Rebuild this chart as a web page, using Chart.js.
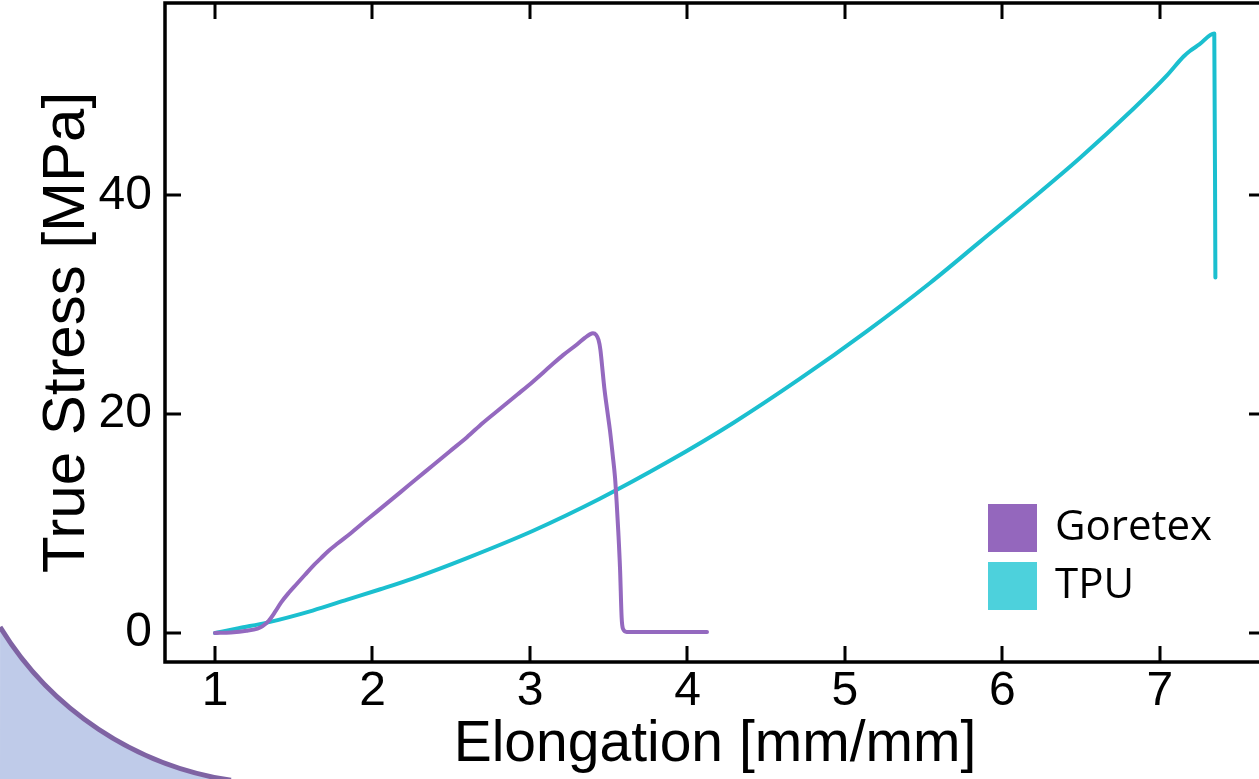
<!DOCTYPE html>
<html><head><meta charset="utf-8">
<script src="https://cdn.jsdelivr.net/npm/chart.js@4"></script>
<style>
html,body{margin:0;padding:0;background:#fff;overflow:hidden;width:1259px;height:779px;}
#wrap{position:absolute;left:0;top:0;width:1280px;height:779px;}
</style></head><body>
<div id="wrap"><canvas id="c" width="1280" height="779"></canvas></div>
<script>
// ---- data ----
const seriesNames = ['Goretex', 'TPU'];
const goretexElongation = [1.0, 1.10, 1.20, 1.27, 1.30, 1.34, 1.38, 1.42, 1.47, 1.52, 1.57, 1.62, 1.67, 1.72, 1.78, 1.86, 1.96, 2.07, 2.18, 2.28, 2.39, 2.49, 2.60, 2.70, 2.81, 2.92, 3.02, 3.13, 3.21, 3.30, 3.35, 3.38, 3.40, 3.42, 3.435, 3.447, 3.458, 3.472, 3.49, 3.508, 3.525, 3.540, 3.550, 3.561, 3.572, 3.582, 3.590, 3.614, 3.70, 3.90, 4.124];
const goretexStress     = [0.0, 0.05, 0.2, 0.4, 0.6, 1.1, 1.9, 2.8, 3.7, 4.5, 5.3, 6.1, 6.8, 7.5, 8.2, 9.1, 10.3, 11.6, 12.9, 14.1, 15.4, 16.6, 17.9, 19.2, 20.5, 21.8, 23.0, 24.4, 25.4, 26.4, 27.0, 27.3, 27.4, 27.25, 26.8, 25.9, 24.4, 22.4, 20.4, 18.5, 16.3, 14.2, 12.0, 9.2, 5.8, 1.4, 0.4, 0.1, 0.1, 0.1, 0.1];
const tpuElongation     = [1.0, 1.15, 1.33, 1.62, 1.84, 2.05, 2.26, 2.60, 3.02, 3.44, 3.87, 4.29, 4.71, 5.14, 5.54, 5.86, 6.18, 6.49, 6.83, 7.04, 7.15, 7.19, 7.25, 7.345, 7.352];
const tpuStress         = [0.0, 0.45, 0.95, 2.05, 3.05, 4.0, 5.0, 6.85, 9.35, 12.25, 15.6, 19.2, 23.2, 27.6, 32.0, 35.8, 39.6, 43.4, 47.9, 50.9, 52.7, 53.2, 53.8, 54.8, 32.5];
const xTickValues = [1, 2, 3, 4, 5, 6, 7];
const yTickValues = [0, 20, 40];

const FONT = '"Liberation Sans", Arial, sans-serif';
const toPts = (xs, ys) => xs.map((v, i) => ({x: v, y: ys[i]}));

const bgDecor = {
  id: 'bgDecor',
  beforeDraw(chart) {
    const ctx = chart.ctx;
    const cx = 280, cy = 456, r = 328;
    const a1 = Math.atan2(627 - cy, 0 - cx);
    const a2 = Math.atan2(800 - cy, 228 - cx);
    ctx.save();
    ctx.beginPath();
    ctx.arc(cx, cy, r, a1, a2, true);
    ctx.lineTo(0, 800);
    ctx.closePath();
    ctx.fillStyle = '#bfcbe9';
    ctx.fill();
    ctx.beginPath();
    ctx.arc(cx, cy, r, a1, a2, true);
    ctx.strokeStyle = '#7f63a3';
    ctx.lineWidth = 5;
    ctx.stroke();
    ctx.restore();
  }
};

const frameTicks = {
  id: 'frameTicks',
  beforeDatasetsDraw(chart) {
    const {ctx, chartArea: {left, right, top, bottom}, scales: {x, y}} = chart;
    const L = 16;
    ctx.save();
    ctx.strokeStyle = '#000';
    ctx.lineWidth = 3.5;
    ctx.lineCap = 'butt';
    ctx.strokeRect(left, top, right - left, bottom - top);
    ctx.beginPath();
    x.ticks.forEach(t => {
      const px = Math.round(x.getPixelForValue(t.value));
      ctx.moveTo(px, bottom); ctx.lineTo(px, bottom - L);
      ctx.moveTo(px, top); ctx.lineTo(px, top + L);
    });
    y.ticks.forEach(t => {
      const py = Math.round(y.getPixelForValue(t.value));
      ctx.moveTo(left, py); ctx.lineTo(left + L, py);
      ctx.moveTo(right, py); ctx.lineTo(right - L, py);
    });
    ctx.lineWidth = 3;
    ctx.stroke();
    ctx.restore();
  }
};

const boxLegend = {
  id: 'boxLegend',
  afterDraw(chart) {
    const {ctx, chartArea: {left, top}} = chart;
    const x0 = left + 823, y0 = top + 501;
    ctx.save();
    chart.data.datasets.forEach((ds, i) => {
      const by = y0 + i * 58;
      ctx.fillStyle = ds.legendColor;
      ctx.fillRect(x0, by, 49, 48);
      ctx.fillStyle = '#000';
      ctx.font = '42px "Open Sans", sans-serif';
      ctx.textBaseline = 'middle';
      ctx.textAlign = 'left';
      ctx.fillText(ds.label, x0 + 67, by + 24);
    });
    ctx.restore();
  }
};

new Chart(document.getElementById('c'), {
  type: 'scatter',
  data: {
    datasets: [
      {label: seriesNames[0], data: toPts(goretexElongation, goretexStress), showLine: true,
       borderColor: '#9469bf', backgroundColor: '#9467bd', legendColor: '#9467bd', borderWidth: 4, pointRadius: 0,
       cubicInterpolationMode: 'monotone', borderJoinStyle: 'round', borderCapStyle: 'round'},
      {label: seriesNames[1], data: toPts(tpuElongation, tpuStress), showLine: true,
       borderColor: '#1bbfcf', backgroundColor: '#4dd1dc', legendColor: '#4dd1dc', borderWidth: 4, pointRadius: 0,
       cubicInterpolationMode: 'monotone', borderJoinStyle: 'round', borderCapStyle: 'round'}
    ]
  },
  options: {
    responsive: false,
    animation: false,
    layout: {padding: {top: 3, right: 15, left: 0, bottom: 0}},
    plugins: {legend: {display: false}, tooltip: {enabled: false}},
    scales: {
      x: {
        type: 'linear', min: 0.6825, max: 7.667,
        afterBuildTicks(s) { s.ticks = xTickValues.map(v => ({value: v})); },
        ticks: {autoSkip: false, maxRotation: 0,
                color: '#000', padding: 1, font: {family: FONT, size: 48}},
        grid: {display: false, drawTicks: false},
        border: {display: false},
        title: {display: true, text: 'Elongation [mm/mm]', color: '#000',
                font: {family: FONT, size: 57}, padding: {top: 0, bottom: 0}},
        afterFit(s) { s.height = 117; s.paddingLeft = 0; s.paddingRight = 0; }
      },
      y: {
        type: 'linear', min: -2.65, max: 57.59,
        afterBuildTicks(s) { s.ticks = yTickValues.map(v => ({value: v})); },
        ticks: {autoSkip: false,
                color: '#000', padding: 13, font: {family: FONT, size: 48}},
        grid: {display: false, drawTicks: false},
        border: {display: false},
        title: {display: true, text: 'True Stress [MPa]', color: '#000',
                font: {family: FONT, size: 60}, padding: {top: 31, bottom: 0}},
        afterFit(s) { s.width = 165; s.paddingTop = 0; s.paddingBottom = 0; }
      }
    }
  },
  plugins: [bgDecor, frameTicks, boxLegend]
});
</script>
</body></html>
